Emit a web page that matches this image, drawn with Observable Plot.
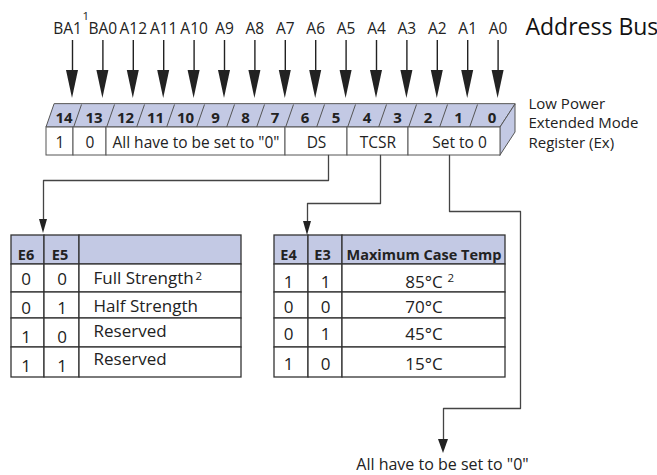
<!DOCTYPE html>
<html><head><meta charset="utf-8">
<script src="https://cdn.jsdelivr.net/npm/d3@7"></script>
<script src="https://cdn.jsdelivr.net/npm/@observablehq/plot@0.6"></script>
<style>body{margin:0;background:#fff}</style>
</head><body><div id="chart"></div>
<script>
// ---------- DATA ----------
const addressLabels = ["BA1","BA0","A12","A11","A10","A9","A8","A7","A6","A5","A4","A3","A2","A1","A0"];
const bitNumbers = [14,13,12,11,10,9,8,7,6,5,4,3,2,1,0];
const fieldLabels = ["1","0","All have to be set to \"0\"","DS","TCSR","Set to 0"];
const fieldBitCounts = [1,1,6,2,2,3];
const titleText = "Address Bus";
const registerName = ["Low Power","Extended Mode","Register (Ex)"];
const dsHeaders = ["E6","E5",""];
const dsE6 = ["0","0","1","1"];
const dsE5 = ["0","1","0","1"];
const dsModes = ["Full Strength","Half Strength","Reserved","Reserved"];
const tcHeaders = ["E4","E3","Maximum Case Temp"];
const tcE4 = ["1","0","0","1"];
const tcE3 = ["1","0","1","0"];
const tcTemps = ["85°C","70°C","45°C","15°C"];
const footnoteMarks = ["1","2","2"];
const setToZeroNote = "All have to be set to \"0\"";

// ---------- LAYOUT ----------
const W = 657, H = 475;
const lav = "#c3c9e4", ink = "#222", lineCol = "#444";
const edges = [46,73,106,136,166,196,226,256,285,316,347,378,408,439,469,500];
const yTop = 104, yMid = 127, yBot = 155, slant = 8, topRight = 515;
const arrowX = addressLabels.map((d, i) => 72 + i * 30.4);
const FS = 15.5, FT = 17, FB = 14.5;

const fieldEdges = [0];
fieldBitCounts.forEach(c => fieldEdges.push(fieldEdges[fieldEdges.length - 1] + c));
const fields = fieldLabels.map((label, i) => ({
  label,
  x1: edges[fieldEdges[i]], x2: edges[fieldEdges[i + 1]]
}));

const headerCells = bitNumbers.map((b, i) => ({
  label: String(b),
  x: (edges[i] + edges[i + 1]) / 2 + slant / 2 + (i === 14 ? 3 : 0)
}));

const heads = [];
arrowX.forEach((x, i) => heads.push({id: "a" + i, cx: x, y0: 70, y1: 98, hw: 6}));
heads.push({id: "ds", cx: 43, y0: 219, y1: 233, hw: 4});
heads.push({id: "tc", cx: 307, y0: 221, y1: 235, hw: 4});
heads.push({id: "st", cx: 443, y0: 439, y1: 453, hw: 5});
const headPts = heads.flatMap(h => [
  {id: h.id, y: h.y0, x1: h.cx - h.hw, x2: h.cx + h.hw},
  {id: h.id, y: h.y1, x1: h.cx, x2: h.cx}
]);

const connectors = [
  {id: "ds", pts: [[328,155],[328,180],[43,180],[43,222]]},
  {id: "tc", pts: [[380,155],[380,203],[307,203],[307,224]]},
  {id: "st", pts: [[449,155],[449,211],[520,211],[520,408],[443,408],[443,442]]}
].flatMap(c => c.pts.map(([x, y]) => ({id: c.id, x, y})));

const rowEdges = [235, 264, 292, 318, 347, 377];
function tableCells(colEdges, headers, cols) {
  const cells = [];
  headers.forEach((h, c) => cells.push({x1: colEdges[c], x2: colEdges[c + 1], y1: rowEdges[0], y2: rowEdges[1], fill: lav}));
  cols[0].forEach((_, r) => {
    cols.forEach((col, c) => cells.push({x1: colEdges[c], x2: colEdges[c + 1], y1: rowEdges[r + 1], y2: rowEdges[r + 2], fill: "white"}));
  });
  return cells;
}
const t1Cols = [11, 44, 79, 241];
const t2Cols = [274, 308, 342, 505];
const t1Cells = tableCells(t1Cols, dsHeaders, [dsE6, dsE5, dsModes]);
const t2Cells = tableCells(t2Cols, tcHeaders, [tcE4, tcE3, tcTemps]);
const mid = (a, b) => (a + b) / 2;

const t1Head = dsHeaders.map((t, c) => ({t, x: mid(t1Cols[c], t1Cols[c + 1]) - 2, y: 259}));
const t2Head = tcHeaders.map((t, c) => ({t, x: mid(t2Cols[c], t2Cols[c + 1]) - (c < 2 ? 3 : 0), y: 259}));
const numBase = [284, 313, 342, 371];
const descBase = [283, 311, 336, 364];
const t2Base = [287, 312, 339, 369];
const t1Nums = [], t1Desc = [];
dsE6.forEach((v, r) => {
  t1Nums.push({t: v, x: mid(t1Cols[0], t1Cols[1]) - 2, y: numBase[r]});
  t1Nums.push({t: dsE5[r], x: mid(t1Cols[1], t1Cols[2]), y: numBase[r]});
  t1Desc.push({t: dsModes[r], x: t1Cols[2] + 14, y: descBase[r]});
});
const t2Body = [];
tcE4.forEach((v, r) => {
  t2Body.push({t: v, x: mid(t2Cols[0], t2Cols[1]) - 3, y: t2Base[r]});
  t2Body.push({t: tcE3[r], x: mid(t2Cols[1], t2Cols[2]), y: t2Base[r]});
  t2Body.push({t: tcTemps[r], x: mid(t2Cols[2], t2Cols[3]), y: t2Base[r]});
});

const sups = [
  {t: footnoteMarks[0], x: 82, y: 19},
  {t: footnoteMarks[1], x: 195, y: 279},
  {t: footnoteMarks[2], x: 447, y: 281}
];

const F = "Open Sans";
const txt = (data, o) => Plot.text(data, {fontSize: FS, lineAnchor: "bottom", fill: ink, ...o});
const chart = Plot.plot({
  width: W, height: H,
  marginTop: 0, marginRight: 0, marginBottom: 0, marginLeft: 0,
  x: {domain: [0, W], range: [0, W], axis: null},
  y: {domain: [0, H], range: [0, H], axis: null},
  style: {fontFamily: F, background: "white", color: ink},
  marks: [
    Plot.ruleX(arrowX, {x: d => d, y1: 40, y2: 71, stroke: ink, strokeWidth: 1.4}),
    Plot.areaX([{y: yTop, x1: edges[0] + slant, x2: topRight}, {y: yMid, x1: edges[0], x2: edges[15]}],
      {y: "y", x1: "x1", x2: "x2", fill: lav, stroke: "#555", strokeWidth: 1}),
    Plot.areaY([{x: edges[15], y1: yMid, y2: yBot}, {x: topRight, y1: yTop, y2: yTop + (yBot - yMid)}],
      {x: "x", y1: "y1", y2: "y2", fill: lav, stroke: "#555", strokeWidth: 1}),
    Plot.link(edges.slice(1, 15), {x1: d => d, y1: yMid, x2: d => d + slant, y2: yTop, stroke: "#555", strokeWidth: 1}),
    Plot.rect(fields, {x1: "x1", x2: "x2", y1: yMid, y2: yBot, fill: "white", stroke: "#555", strokeWidth: 1}),
    Plot.line(connectors, {x: "x", y: "y", z: "id", stroke: lineCol, strokeWidth: 1.3}),
    Plot.areaX(headPts, {y: "y", x1: "x1", x2: "x2", z: "id", fill: ink}),
    Plot.rect(t1Cells, {x1: "x1", x2: "x2", y1: "y1", y2: "y2", fill: "fill", stroke: "#333", strokeWidth: 1.3}),
    Plot.rect(t2Cells, {x1: "x1", x2: "x2", y1: "y1", y2: "y2", fill: "fill", stroke: "#333", strokeWidth: 1.3}),
    txt(addressLabels, {x: (d, i) => arrowX[i] - (i === 0 ? 5 : 0), y: 33, text: d => d, fontSize: 15.5}),
    txt([titleText], {x: 525, y: 34, text: d => d, fontSize: 23, textAnchor: "start", fill: "#111"}),
    txt(registerName, {x: 528, y: (d, i) => 108 + i * 19.5, text: d => d, fontSize: 15, textAnchor: "start"}),
    txt(headerCells, {x: "x", y: 122, text: "label", fontSize: 15, fontWeight: "bold"}),
    txt(fields, {x: d => mid(d.x1, d.x2) + (d.label === "Set to 0" ? 5 : 0), y: 147, text: "label"}),
    txt(t1Head, {x: "x", y: "y", text: "t", fontSize: FB, fontWeight: "bold"}),
    txt(t2Head, {x: "x", y: "y", text: "t", fontSize: FB, fontWeight: "bold"}),
    txt(t1Nums, {x: "x", y: "y", text: "t", fontSize: FT}),
    txt(t1Desc, {x: "x", y: "y", text: "t", textAnchor: "start", fontSize: FT}),
    txt(t2Body, {x: "x", y: "y", text: "t", fontSize: FT}),
    txt(sups, {x: "x", y: "y", text: "t", textAnchor: "start", fontSize: 11.5}),
    txt([setToZeroNote], {x: 442, y: 469, text: d => d, fontSize: 16})
  ]
});
document.getElementById("chart").appendChild(chart);
</script>
</body></html>
